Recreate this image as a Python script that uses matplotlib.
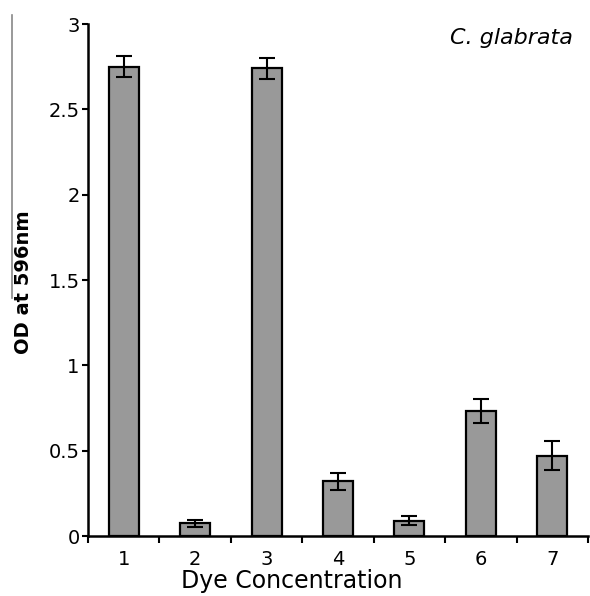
import matplotlib
matplotlib.use("Agg")
import matplotlib.pyplot as plt
from matplotlib.lines import Line2D

categories = ["1", "2", "3", "4", "5", "6", "7"]
values = [2.75, 0.075, 2.74, 0.32, 0.09, 0.73, 0.47]
errors = [0.06, 0.02, 0.06, 0.05, 0.025, 0.07, 0.085]
yticks = [0, 0.5, 1, 1.5, 2, 2.5, 3]
yticklabels = ["0", "0.5", "1", "1.5", "2", "2.5", "3"]

plt.rcParams['font.family'] = ['DejaVu Sans']

W, H = 590, 596
fig = plt.figure(figsize=(W / 100, H / 100), dpi=100)
ax = fig.add_axes([88 / W, 1 - 536 / H, 500 / W, 512 / H])

x = list(range(len(categories)))
ax.bar(x, values, width=0.42, color="#999999", edgecolor="black", linewidth=1.6, zorder=2)
ax.errorbar(x, values, yerr=errors, fmt="none", ecolor="black", elinewidth=1.5,
            capsize=6, capthick=1.5, zorder=3)

ax.set_xlim(-0.5, len(categories) - 0.5)
ax.set_ylim(0, 3)
ax.set_yticks(yticks)
ax.set_yticklabels(yticklabels, fontsize=14)
ax.set_xticks(x)
ax.set_xticklabels(categories, fontsize=14)
ax.tick_params(axis="x", length=0, pad=10)
ax.set_xticks([i - 0.5 for i in range(len(categories) + 1)], minor=True)
ax.tick_params(axis="x", which="minor", length=5, width=1.5, direction="out")
ax.tick_params(axis="y", length=4, width=1.5, direction="out", pad=2)

for s in ["top", "right"]:
    ax.spines[s].set_visible(False)
for s in ["left", "bottom"]:
    ax.spines[s].set_linewidth(1.8)

fig.text(292 / W, 1 - 581 / H, "Dye Concentration", fontsize=17, ha="center", va="center")
fig.text(24 / W, 1 - 282 / H, "OD at 596nm", fontsize=14, fontweight="bold",
         rotation=90, ha="center", va="center")

fig.text(573 / W, 1 - 38 / H, "C. glabrata", fontsize=16, style="italic",
         ha="right", va="center")

fig.add_artist(Line2D([12 / W, 12 / W], [1 - 15 / H, 1 - 298 / H],
                      color="#888888", linewidth=1.2, transform=fig.transFigure))

fig.savefig("out.png", dpi=100)
